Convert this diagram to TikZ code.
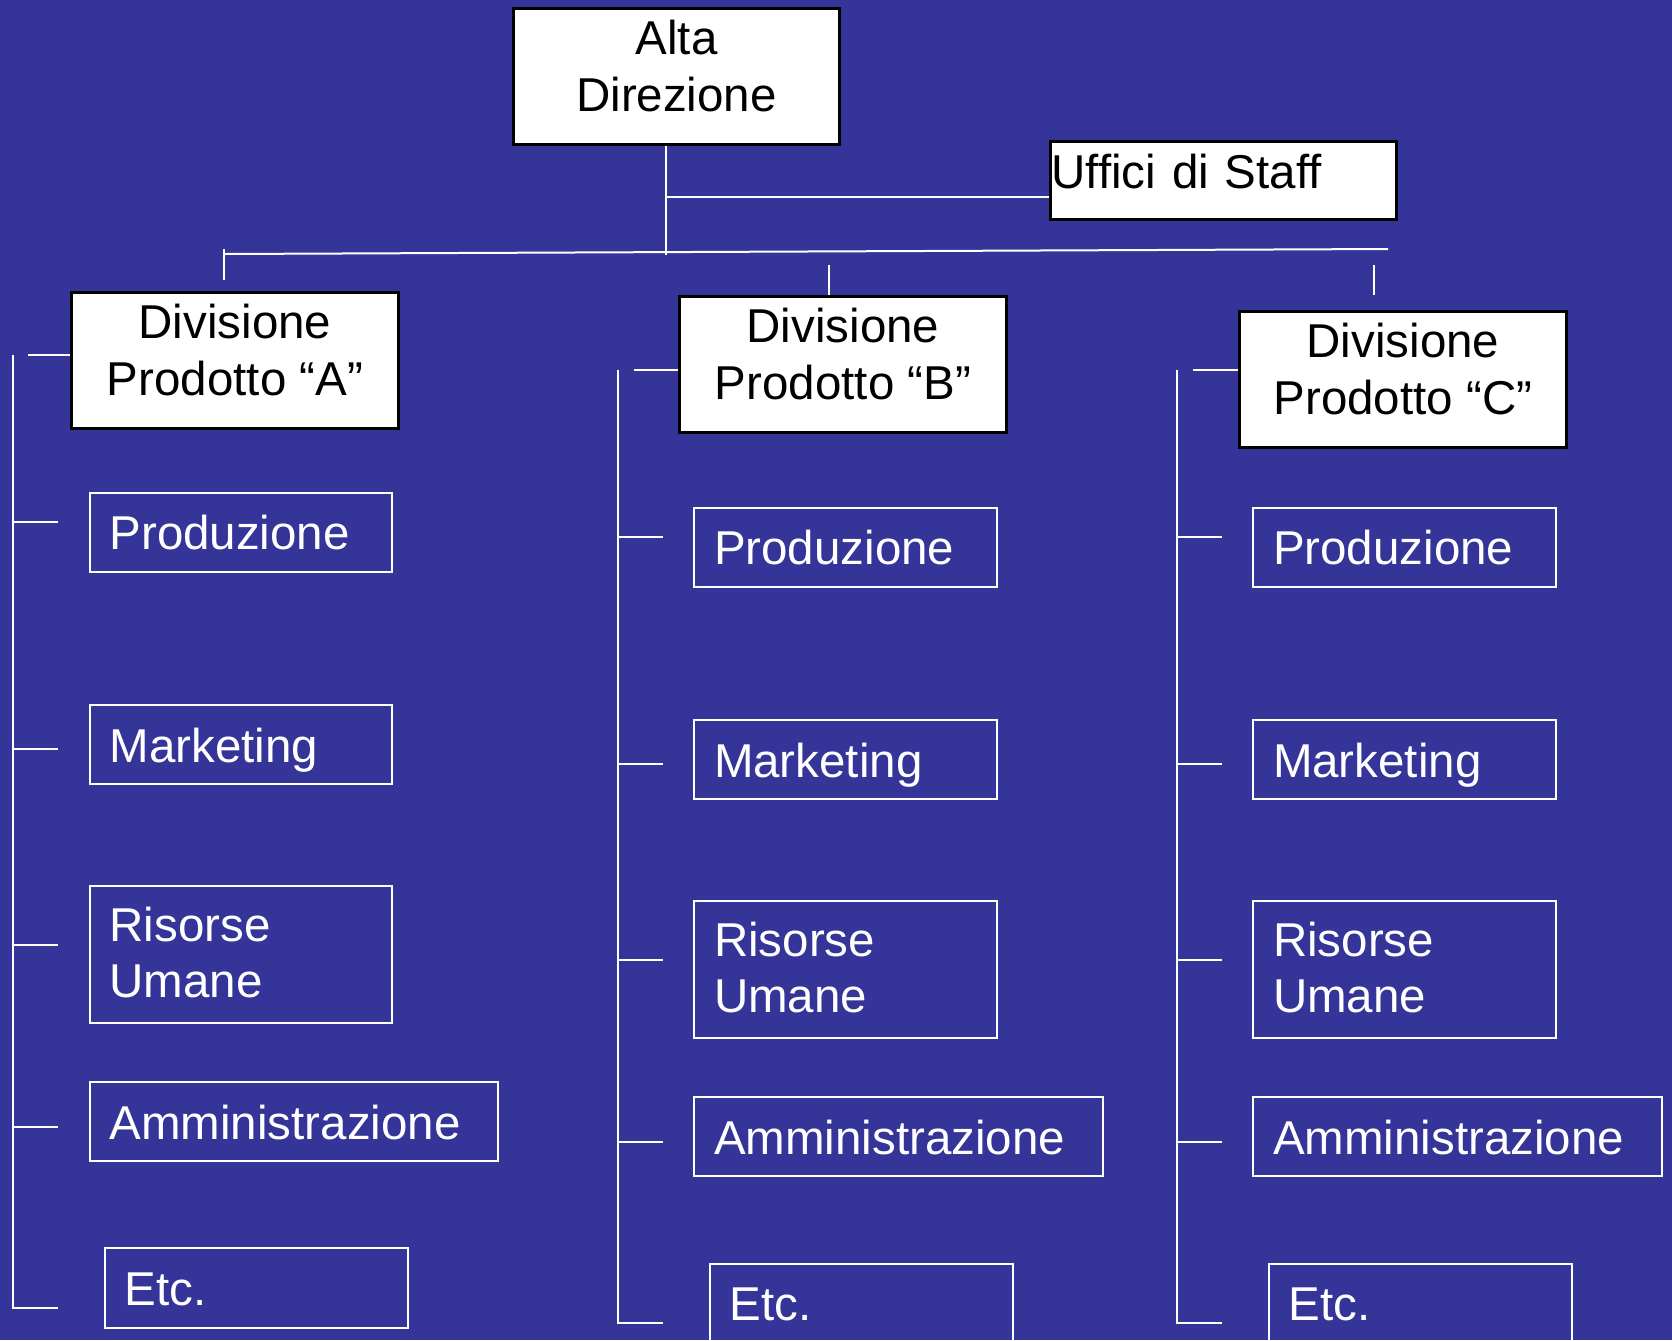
\documentclass[tikz,border=0pt]{standalone}
\usepackage{fontspec}
\setmainfont{Liberation Sans}
\usepackage{tikz}
\usetikzlibrary{positioning}
\definecolor{slideblue}{RGB}{52,52,153}
\tikzset{
  topbox/.style={draw=black, line width=1.5pt, fill=white, text=black, align=center,
    inner sep=0pt, minimum width=163.5pt, minimum height=68pt, anchor=north west},
  unitbox/.style={draw=white, line width=1pt, text=white, align=left, inner xsep=10pt,
    text width=131.25pt, minimum height=39.5pt, anchor=north west},
  oneline/.style={text height=19.5pt, text depth=2pt},
  link/.style={draw=white, line width=1pt},
}
\newcommand\lift{\rule[-10.5pt]{0pt}{10.5pt}}

\begin{document}
\begin{tikzpicture}[x=0.5pt, y=-0.5pt]

  \fontsize{23.75}{28.25}\selectfont

  \useasboundingbox (0,0) rectangle (1672,1340);
  \clip (0,0) rectangle (1672,1340);
  \fill[slideblue] (0,0) rectangle (1672,1340);

  % top level
  \node[topbox, minimum width=163pt] (alta) at (512,7) {Alta\\Direzione\lift};
  \node[topbox, align=left, inner xsep=0.5pt, text width=172pt, minimum height=39pt,
    text height=17pt, text depth=9pt] (staff) at (1049,140) {Uffici di Staff};

  % divisions
  \node[topbox] (divA) at (70,291) {Divisione\\Prodotto “A”\lift};
  \node[topbox] (divB) at (678,295) {Divisione\\Prodotto “B”\lift};
  \node[topbox] (divC) at (1238,310) {Divisione\\Prodotto “C”\lift};

  \coordinate (hub) at (665.5,255);
  \coordinate (staffjoin) at (665.5,197);
  \draw[link] (alta.south -| hub) -- (hub); % alta -> bar
  \draw[link] (staffjoin) -- (staffjoin -| staff.west); % staff

  \coordinate (barL) at (224,254);
  \coordinate (barR) at (1388,249);
  \draw[link] (barL) -- (barR);

  \coordinate (dropA) at (224,280);
  \coordinate (dropB) at (829,265);
  \coordinate (dropC) at (1373.5,265);
  \coordinate (dropCend) at (1373.5,295);
  \draw[link] ([yshift=2.5pt]barL) -- (dropA); % bar -> A
  \draw[link] (dropB) -- (dropB |- divB.north); % bar -> B
  \draw[link] (dropC) -- (dropCend); % bar -> C

  % column A
  \node[unitbox, oneline] (prodA) at (88.5,491.5) {Produzione};
  \node[unitbox, oneline] (markA) at (88.5,704) {Marketing};
  \node[unitbox, minimum height=68.25pt] (ruA) at (88.5,885) {Risorse\\Umane\rule[-2pt]{0pt}{2pt}};
  \node[unitbox, oneline, text width=184.25pt] (ammA) at (88.5,1081) {Amministrazione};
  \node[unitbox, oneline, text width=131.75pt, minimum height=39.75pt] (etcA) at (103.5,1247) {Etc.};

  \coordinate (topA) at (28,355);
  \coordinate (spineA) at (13,355);
  \coordinate (endA) at (13,1307.5);
  \draw[link] (topA) -- (topA -| divA.west);
  \draw[link] (spineA) -- (endA) -- +(44.5,0); % A -> etc
  \draw[link] (13,521.5) -- (57.5,521.5); % A -> prod
  \draw[link] (13,748.5) -- (57.5,748.5); % A -> mark
  \draw[link] (13,944.5) -- (57.5,944.5); % A -> ru
  \draw[link] (13,1126.5) -- (57.5,1126.5); % A -> amm

  % column B
  \node[unitbox, oneline] (prodB) at (693,506.5) {Produzione};
  \node[unitbox, oneline] (markB) at (693,719) {Marketing};
  \node[unitbox, minimum height=68.25pt] (ruB) at (693,900) {Risorse\\Umane\rule[-2pt]{0pt}{2pt}};
  \node[unitbox, oneline, text width=184.25pt] (ammB) at (693,1096) {Amministrazione};
  \node[unitbox, oneline, text width=131.75pt, minimum height=39.75pt] (etcB) at (708.5,1262.5) {Etc.};

  \coordinate (topB) at (633.5,370);
  \coordinate (spineB) at (618,370);
  \coordinate (endB) at (618,1322.5);
  \draw[link] (topB) -- (topB -| divB.west);
  \draw[link] (spineB) -- (endB) -- +(45,0); % B -> etc
  \draw[link] (618,536.5) -- (663,536.5); % B -> prod
  \draw[link] (618,763.5) -- (663,763.5); % B -> mark
  \draw[link] (618,959.5) -- (663,959.5); % B -> ru
  \draw[link] (618,1141.5) -- (663,1141.5); % B -> amm

  % column C
  \node[unitbox, oneline] (prodC) at (1252,506.5) {Produzione};
  \node[unitbox, oneline] (markC) at (1252,719) {Marketing};
  \node[unitbox, minimum height=68.25pt] (ruC) at (1252,900) {Risorse\\Umane\rule[-2pt]{0pt}{2pt}};
  \node[unitbox, oneline, text width=184.25pt] (ammC) at (1252,1096) {Amministrazione};
  \node[unitbox, oneline, text width=131.75pt, minimum height=39.75pt] (etcC) at (1267.5,1262.5) {Etc.};

  \coordinate (topC) at (1193,370);
  \coordinate (spineC) at (1177,370);
  \coordinate (endC) at (1177,1322.5);
  \draw[link] (topC) -- (topC -| divC.west);
  \draw[link] (spineC) -- (endC) -- +(45,0); % C -> etc
  \draw[link] (1177,536.5) -- (1222,536.5); % C -> prod
  \draw[link] (1177,763.5) -- (1222,763.5); % C -> mark
  \draw[link] (1177,959.5) -- (1222,959.5); % C -> ru
  \draw[link] (1177,1141.5) -- (1222,1141.5); % C -> amm

\end{tikzpicture}
\end{document}
